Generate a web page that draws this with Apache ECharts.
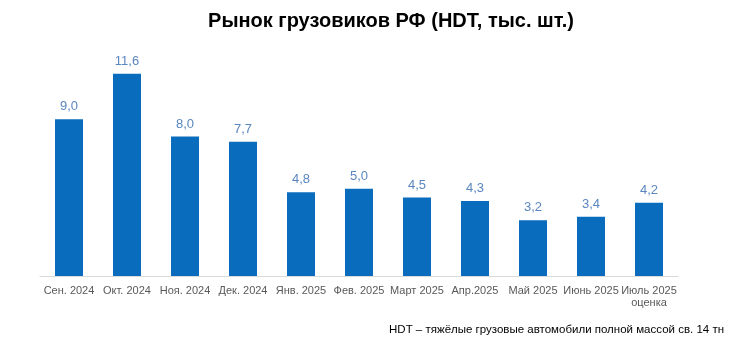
<!DOCTYPE html>
<html>
<head>
<meta charset="utf-8">
<script src="https://cdn.jsdelivr.net/npm/echarts@6/dist/echarts.min.js"></script>
<style>
  html, body { margin: 0; padding: 0; background: #fff; }
  #chart { width: 750px; height: 342px; }
</style>
</head>
<body>
<div id="chart"></div>
<script>
// Monthly HDT truck sales, thousand units
const months = ['Сен. 2024', 'Окт. 2024', 'Ноя. 2024', 'Дек. 2024', 'Янв. 2025', 'Фев. 2025',
                'Март 2025', 'Апр.2025', 'Май 2025', 'Июнь 2025', 'Июль 2025\nоценка'];
const sales = [9.0, 11.6, 8.0, 7.7, 4.8, 5.0, 4.5, 4.3, 3.2, 3.4, 4.2];

const chart = echarts.init(document.getElementById('chart'));
chart.setOption({
  animation: false,
  title: [{
    text: 'Рынок грузовиков РФ (HDT, тыс. шт.)',
    left: 386, top: 6, textAlign: 'center',
    textStyle: { fontFamily: 'Liberation Sans', fontSize: 20, fontWeight: 'bold', color: '#000' }
  }, {
    text: 'HDT – тяжёлые грузовые автомобили полной массой св. 14 тн',
    right: 21, top: 319,
    textStyle: { fontFamily: 'Liberation Sans', fontSize: 11.5, fontWeight: 'normal', color: '#000' }
  }],
  grid: { left: 40, right: 72, top: 32, bottom: 66 },
  xAxis: {
    type: 'category',
    data: months,
    axisLine: { lineStyle: { color: '#d9d9d9' } },
    axisTick: { show: false },
    axisLabel: { fontFamily: 'Liberation Sans', fontSize: 11, color: '#595959', margin: 9, lineHeight: 12, interval: 0 }
  },
  yAxis: {
    type: 'value', min: 0, max: 14,
    show: false
  },
  series: [{
    type: 'bar',
    data: sales,
    barWidth: 28,
    itemStyle: { color: '#0a6cbd' },
    label: {
      show: true, position: 'top', distance: 6,
      fontFamily: 'Liberation Sans', fontSize: 13, color: '#5a86bf',
      formatter: p => p.value.toFixed(1).replace('.', ',')
    }
  }]
});
</script>
</body>
</html>
